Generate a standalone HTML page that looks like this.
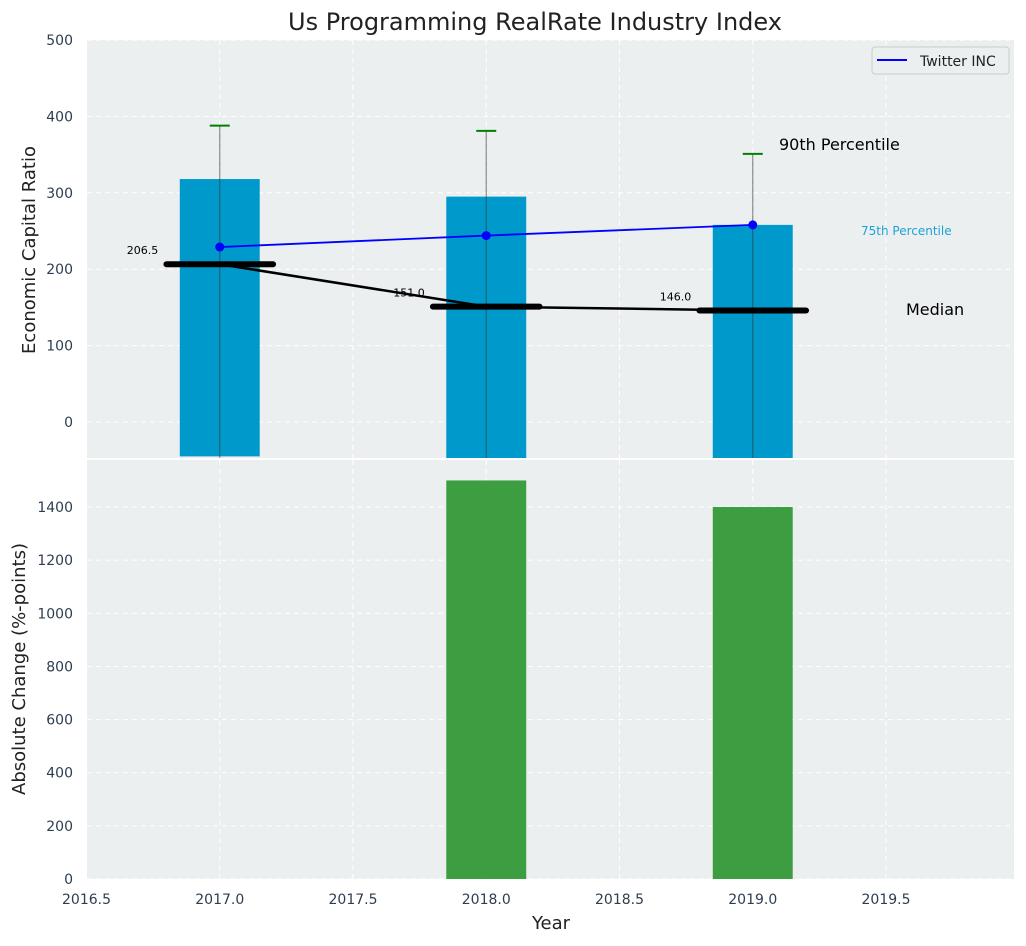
<!DOCTYPE html>
<html><head><meta charset="utf-8"><style>
body{margin:0;background:#fff;font-family:"DejaVu Sans","Liberation Sans",sans-serif;}
svg text{font-family:"DejaVu Sans","Liberation Sans",sans-serif;}
</style></head><body>
<svg id="c" width="1026" height="942" xmlns="http://www.w3.org/2000/svg"></svg>
<script>
const years=[2017,2018,2019];
const barTop=[318,295,258];
const barBottom=[-45,-50,-50];
const errTop=[388,381,351];
const twitter=[229,244,258];
const medians=[206.5,151.0,146.0];
const medianLabels=["206.5","151.0","146.0"];
const changes=[0,1500,1400];
const xTicks=[2016.5,2017.0,2017.5,2018.0,2018.5,2019.0,2019.5];
const yTopTicks=[0,100,200,300,400,500];
const yBotTicks=[0,200,400,600,800,1000,1200,1400];

const NS="http://www.w3.org/2000/svg";
const svg=document.getElementById('c');
function el(t,a,p){const e=document.createElementNS(NS,t);for(const k in a)e.setAttribute(k,a[k]);(p||svg).appendChild(e);return e;}
const L=87,R=1014;
const PX=266.5;
const X=v=>86.5+(v-2016.5)*PX;
const T0=40,T1=458,B0=460,B1=879;
const YT=v=>T0+(500-v)*0.764;
const YB=v=>B1-v*0.2657;

let t=el('text',{x:535,y:30,'text-anchor':'middle','font-size':24,fill:'#222'});t.textContent='Us Programming RealRate Industry Index';



let bg1=el('rect',{x:L,y:T0,width:R-L,height:T1-T0,fill:'#ebeff0'});


let bg2=el('rect',{x:L,y:B0,width:R-L,height:B1-B0,fill:'#ebeff0'});



const defs=el('defs',{});
let cp=el('clipPath',{id:'ct'},defs);el('rect',{x:L,y:T0,width:R-L,height:T1-T0},cp);
let cp2=el('clipPath',{id:'cb'},defs);el('rect',{x:L,y:B0,width:R-L,height:B1-B0},cp2);

xTicks.forEach(v=>{
  [[T0,T1],[B0,B1]].forEach(([a,b])=>{
    let g=el('line',{x1:X(v),x2:X(v),y1:a,y2:b,stroke:'#fff','stroke-dasharray':'5,4','stroke-width':1});
    
    
  });
});
yTopTicks.forEach(v=>{
  let g=el('line',{x1:L,x2:R,y1:YT(v),y2:YT(v),stroke:'#fff','stroke-dasharray':'5,4'});
  
  
  let tx=el('text',{x:L-14,y:YT(v)+5,'text-anchor':'end','font-size':14,fill:'#2d3e50'});tx.textContent=v;
  
  
});
yBotTicks.forEach(v=>{
  let g=el('line',{x1:L,x2:R,y1:YB(v),y2:YB(v),stroke:'#fff','stroke-dasharray':'5,4'});
  
  
  let tx=el('text',{x:L-14,y:YB(v)+5,'text-anchor':'end','font-size':14,fill:'#2d3e50'});tx.textContent=v;
  
  
});
xTicks.forEach(v=>{
  let tx=el('text',{x:X(v),y:904,'text-anchor':'middle','font-size':14,fill:'#2d3e50'});tx.textContent=v.toFixed(1);
  
  
});

const gt=el('g',{'clip-path':'url(#ct)'});
years.forEach((y,i)=>{
  let b=el('rect',{x:X(y-0.15),y:YT(barTop[i]),width:PX*0.3,height:YT(barBottom[i])-YT(barTop[i]),fill:'#0099cc'},gt);
  
  
  let e=el('line',{x1:X(y),x2:X(y),y1:YT(errTop[i]),y2:T1,stroke:'#333','stroke-opacity':0.55,'stroke-width':1.2},gt);
  
  
  let c=el('line',{x1:X(y)-10,x2:X(y)+10,y1:YT(errTop[i]),y2:YT(errTop[i]),stroke:'green','stroke-width':2},gt);
  
  
});
let mp=el('polyline',{points:years.map((y,i)=>X(y)+','+YT(medians[i])).join(' '),fill:'none',stroke:'#000','stroke-width':2.5},gt);


years.forEach((y,i)=>{
  let m=el('line',{x1:X(y-0.2),x2:X(y+0.2),y1:YT(medians[i]),y2:YT(medians[i]),stroke:'#000','stroke-width':6,'stroke-linecap':'round'},gt);
  
  
  let tx=el('text',{x:X(y-0.29),y:YT(medians[i])-10,'text-anchor':'middle','font-size':11,fill:'#000'},gt);tx.textContent=medianLabels[i];
  
  
});
let tp=el('polyline',{points:years.map((y,i)=>X(y)+','+YT(twitter[i])).join(' '),fill:'none',stroke:'#0000ff','stroke-width':1.8},gt);


years.forEach((y,i)=>{
  let p=el('circle',{cx:X(y),cy:YT(twitter[i]),r:4.5,fill:'#0000ff'},gt);
  
  
});

const gb=el('g',{'clip-path':'url(#cb)'});
years.forEach((y,i)=>{
  let b=el('rect',{x:X(y-0.15),y:YB(changes[i]),width:PX*0.3,height:YB(0)-YB(changes[i]),fill:'#2e9632','fill-opacity':0.92},gb);
  
  
});

let a1=el('text',{x:779,y:150,'font-size':16,fill:'#000'});a1.textContent='90th Percentile';


let a2=el('text',{x:861,y:235,'font-size':12,fill:'#1ba3d6'});a2.textContent='75th Percentile';


let a3=el('text',{x:906,y:315,'font-size':16,fill:'#000'});a3.textContent='Median';



let lg=el('g',{});


el('rect',{x:872,y:47,width:137,height:27,rx:3,fill:'#ebeff0',stroke:'#ccc'},lg);
el('line',{x1:877,x2:907,y1:60,y2:60,stroke:'#0000ff','stroke-width':2},lg);
let lt=el('text',{x:920,y:66,'font-size':14,fill:'#222'},lg);lt.textContent='Twitter INC';



let yl=el('text',{x:35,y:250,'text-anchor':'middle','font-size':18,fill:'#222',transform:'rotate(-90 35 250)'});yl.textContent='Economic Capital Ratio';


let yl2=el('text',{x:25,y:669,'text-anchor':'middle','font-size':18,fill:'#222',transform:'rotate(-90 25 669)'});yl2.textContent='Absolute Change (%-points)';


let xl=el('text',{x:551,y:929,'text-anchor':'middle','font-size':18,fill:'#222'});xl.textContent='Year';


</script>
</body></html>
